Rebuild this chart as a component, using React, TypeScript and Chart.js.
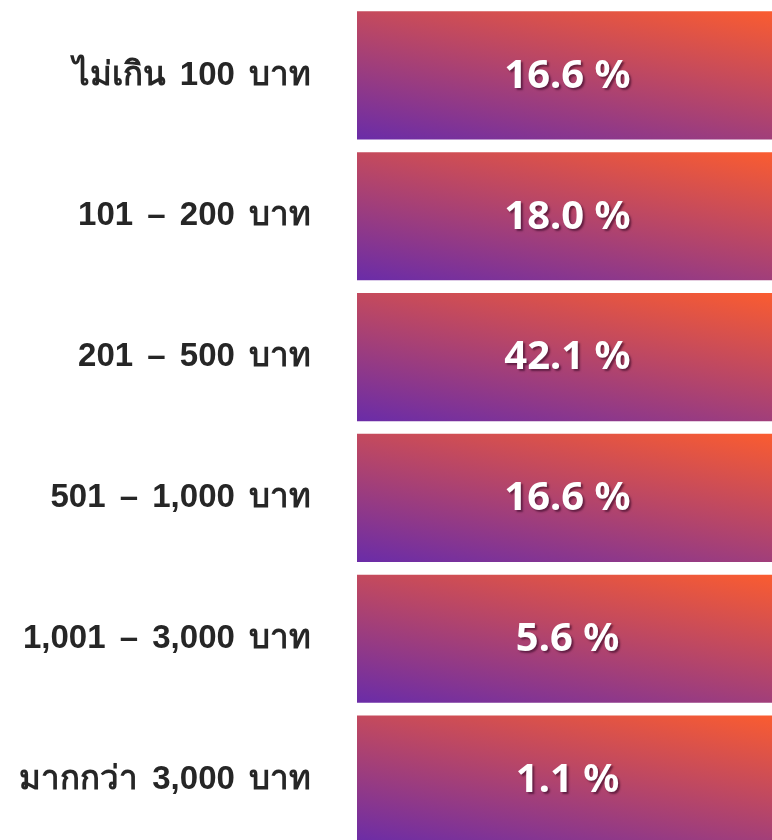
import React, { useEffect, useRef } from "react";
import { Chart, registerables } from "chart.js";

Chart.register(...registerables);

const categories = [
  "ไม่เกิน 100 บาท",
  "101 – 200 บาท",
  "201 – 500 บาท",
  "501 – 1,000 บาท",
  "1,001 – 3,000 บาท",
  "มากกว่า 3,000 บาท",
];
const shares = [16.6, 18.0, 42.1, 16.6, 5.6, 1.1];
const cellExtent = [100, 100, 100, 100, 100, 100];
const axisMax = 100;

const PURPLE = "#6a2ca8";
const ORANGE = "#fa5c30";

export default function App() {
  const ref = useRef<HTMLCanvasElement | null>(null);

  useEffect(() => {
    const canvas = ref.current;
    if (!canvas) return;

    const spacingPlugin = {
      id: "labelSpacing",
      beforeDraw(chart: any) {
        (chart.ctx as any).wordSpacing = "5px";
      },
    };

    const valuePlugin = {
      id: "valueLabels",
      afterDatasetsDraw(chart: any) {
        const ctx = chart.ctx;
        const meta = chart.getDatasetMeta(0);
        ctx.save();
        (ctx as any).wordSpacing = "0px";
        ctx.font = "bold 40px 'Noto Sans', sans-serif";
        ctx.textAlign = "center";
        ctx.textBaseline = "middle";
        ctx.fillStyle = "#ffffff";
        ctx.shadowColor = "rgba(40,0,30,0.55)";
        ctx.shadowOffsetX = 2;
        ctx.shadowOffsetY = 2;
        ctx.shadowBlur = 2;
        meta.data.forEach((bar: any, i: number) => {
          const cx = (bar.x + bar.base) / 2 + 3;
          ctx.fillText(shares[i].toFixed(1) + " %", cx, bar.y + 1);
        });
        ctx.restore();
      },
    };

    const chart = new Chart(canvas, {
      type: "bar",
      data: {
        labels: categories,
        datasets: [
          {
            data: cellExtent,
            backgroundColor: (c: any) => {
              const ch = c.chart;
              const area = ch.chartArea;
              const xs = ch.scales && ch.scales.x;
              const ys = ch.scales && ch.scales.y;
              if (!area || !xs || !ys || c.dataIndex === undefined) return PURPLE;
              const left = xs.getPixelForValue(0);
              const right = xs.getPixelForValue(cellExtent[c.dataIndex]);
              const cy = ys.getPixelForValue(c.dataIndex);
              const h = ((area.bottom - area.top) / categories.length) * 0.91;
              const w = right - left;
              if (!isFinite(left) || !isFinite(right) || !isFinite(cy) || w <= 0) return PURPLE;
              // colour weight: 38% from left→right, 62% from bottom→top
              const a = 0.38;
              const b = 0.62;
              const gx = a / w;
              const gy = b / h;
              const g2 = gx * gx + gy * gy;
              const x0 = left;
              const y0 = cy + h / 2;
              const x1 = x0 + gx / g2;
              const y1 = y0 - gy / g2;
              const g = ch.ctx.createLinearGradient(x0, y0, x1, y1);
              g.addColorStop(0, PURPLE);
              g.addColorStop(1, ORANGE);
              return g;
            },
            borderWidth: 0,
            barPercentage: 0.91,
            categoryPercentage: 1,
          },
        ],
      },
      options: {
        indexAxis: "y",
        responsive: false,
        animation: false,
        devicePixelRatio: 1,
        layout: { padding: { top: 5, bottom: 0, left: 0, right: 0 } },
        plugins: {
          legend: { display: false },
          tooltip: { enabled: false },
        },
        scales: {
          x: {
            min: 0,
            max: axisMax,
            display: false,
          },
          y: {
            grid: { display: false, drawTicks: false },
            border: { display: false },
            ticks: {
              padding: 46,
              color: "#262626",
              font: { family: "'Liberation Sans', 'Noto Sans', sans-serif", size: 33, weight: "bold" },
            },
            afterFit: (scale: any) => {
              scale.width = 357;
              scale.paddingTop = 0;
              scale.paddingBottom = 0;
            },
          },
        },
      },
      plugins: [spacingPlugin, valuePlugin],
    } as any);

    return () => chart.destroy();
  }, []);

  return (
    <div
      style={{
        position: "fixed",
        left: 0,
        top: 0,
        width: 772,
        height: 840,
        overflow: "hidden",
        background: "#ffffff",
      }}
    >
      <canvas ref={ref} width={772} height={850} style={{ width: 772, height: 850, display: "block" }} />
    </div>
  );
}
